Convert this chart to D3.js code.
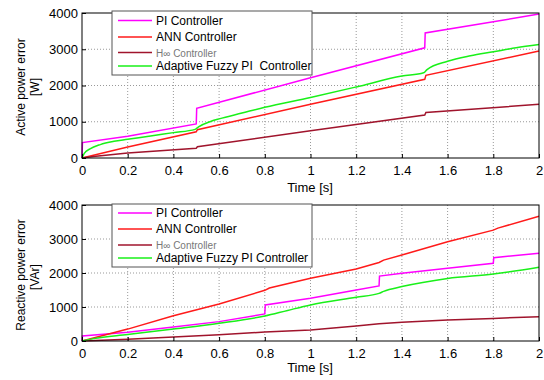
<!DOCTYPE html>
<meta charset="utf-8">
<style>
  body { margin: 0; background: #fff; }
  svg text { font-family: "Liberation Sans", Arial, sans-serif; }
  .grid line { stroke: #999; stroke-dasharray: 1,2; }
</style>
<script src="https://d3js.org/d3.v7.min.js"></script>
<svg id="chart" width="544" height="380"></svg>
<script>

// series names and colours
var names = ["PI Controller", "ANN Controller", "H\u221E Controller", "Adaptive Fuzzy PI  Controller"];
var colors = ["#ff00ff", "#ff1a1a", "#a0142c", "#19f019"];
var xTicks = [0, 0.2, 0.4, 0.6, 0.8, 1, 1.2, 1.4, 1.6, 1.8, 2];
var yTicks = [0, 1000, 2000, 3000, 4000];

// active power error [W]  (t, value)
var pPI = [[0,0],[0.002,425],[0.2,600],[0.5,940],[0.502,1370],[1.0,2215],[1.5,3040],[1.502,3450],[2.0,3970]];
var pANN = [[0,0],[0.2,305],[0.5,725],[0.505,780],[1.0,1480],[1.5,2170],[1.505,2280],[2.0,2950]];
var pHinf = [[0,0],[0.05,40],[0.2,140],[0.5,270],[0.505,310],[1.0,750],[1.5,1185],[1.505,1255],[2.0,1480]];
var pFuzzy = [[0,0],[0.01,130],[0.035,250],[0.08,370],[0.14,460],[0.2,515],[0.3,610],[0.4,700],[0.495,790],[0.51,860],[0.56,1000],[0.6,1080],[0.7,1240],[0.8,1400],[1.0,1670],[1.2,1960],[1.4,2260],[1.495,2350],[1.51,2440],[1.6,2670],[1.7,2820],[1.8,2930],[1.9,3040],[2.0,3130]];

// reactive power error [VAr]
var qPI = [[0,0],[0.002,150],[0.2,255],[0.4,410],[0.6,570],[0.8,795],[0.802,1060],[1.0,1255],[1.2,1500],[1.3,1620],[1.302,1910],[1.4,1990],[1.6,2140],[1.8,2285],[1.802,2450],[2.0,2580]];
var qANN = [[0,0],[0.2,350],[0.4,740],[0.6,1090],[0.8,1490],[0.82,1560],[1.0,1845],[1.2,2120],[1.3,2310],[1.32,2380],[1.4,2530],[1.6,2920],[1.8,3260],[1.82,3320],[2.0,3670]];
var qHinf = [[0,0],[0.2,55],[0.4,115],[0.6,185],[0.8,265],[1.0,325],[1.2,440],[1.3,510],[1.4,550],[1.6,615],[1.8,665],[2.0,715]];
var qFuzzy = [[0,0],[0.05,70],[0.2,190],[0.4,350],[0.6,520],[0.8,735],[0.9,900],[1.0,1060],[1.2,1285],[1.3,1400],[1.32,1460],[1.4,1600],[1.6,1840],[1.8,1970],[2.0,2170]];

var svg = d3.select("#chart");

function drawPlot(cfg) {
  var x = d3.scaleLinear().domain([0, 2]).range([82, 539]);
  var y = d3.scaleLinear().domain([0, 4000]).range([cfg.bottom, cfg.top]);
  var g = svg.append("g");

  // grid
  var grid = g.append("g").attr("class", "grid");
  grid.selectAll(".vx").data(xTicks.slice(1, -1)).enter().append("line")
    .attr("x1", d => x(d)).attr("x2", d => x(d))
    .attr("y1", cfg.top).attr("y2", cfg.bottom);
  grid.selectAll(".hy").data(yTicks.slice(1, -1)).enter().append("line")
    .attr("x1", 82).attr("x2", 539)
    .attr("y1", d => y(d)).attr("y2", d => y(d));

  // series
  var line = d3.line().x(d => x(d[0])).y(d => y(d[1]));
  var smooth = d3.line().x(d => x(d[0])).y(d => y(d[1])).curve(d3.curveMonotoneX);
  cfg.series.forEach(function (s, i) {
    g.append("path").attr("d", (i == 3 ? smooth : line)(s))
      .attr("fill", "none").attr("stroke", colors[i]).attr("stroke-width", 1.5);
  });

  // axes
  var ax = g.append("g").attr("transform", "translate(0," + cfg.bottom + ")")
    .call(d3.axisBottom(x).tickValues(xTicks).tickSize(-4).tickPadding(8).tickFormat(d3.format("")));
  var ay = g.append("g").attr("transform", "translate(82,0)")
    .call(d3.axisLeft(y).tickValues(yTicks).tickSize(-4).tickPadding(4).tickFormat(d3.format("")));
  [ax, ay].forEach(function (a) {
    a.select(".domain").remove();
    a.selectAll("text").attr("font-size", 13).attr("fill", "#000");
  });
  g.append("rect").attr("x", 82).attr("y", cfg.top)
    .attr("width", 539 - 82).attr("height", cfg.bottom - cfg.top)
    .attr("fill", "none").attr("stroke", "#000");

  // labels
  g.append("text").attr("transform", "translate(25," + cfg.lab1 + ") rotate(-90)")
    .attr("text-anchor", "middle").attr("font-size", 12).text(cfg.ylabel);
  g.append("text").attr("transform", "translate(39," + cfg.lab2 + ") rotate(-90)")
    .attr("text-anchor", "middle").attr("font-size", 12).text(cfg.unit);
  g.append("text").attr("x", 310).attr("y", cfg.xlab)
    .attr("text-anchor", "middle").attr("font-size", 13).text("Time [s]");

  // legend
  var lg = g.append("g");
  lg.append("rect").attr("x", 112).attr("y", cfg.leg[0])
    .attr("width", 200).attr("height", cfg.leg[1])
    .attr("fill", "#fff").attr("stroke", "#555");
  names.forEach(function (n, i) {
    var ly = cfg.rows[i];
    lg.append("line").attr("x1", 118).attr("x2", 152).attr("y1", ly).attr("y2", ly)
      .attr("stroke", colors[i]).attr("stroke-width", 1.3);
    lg.append("text").attr("x", 156).attr("y", ly + 4)
      .attr("font-size", i == 2 ? 10 : 12).attr("fill", i == 2 ? "#777" : "#000")
      .style("white-space", cfg.pre && i == 3 ? "pre" : null)
      .text(cfg.pre || i != 3 ? n : "Adaptive Fuzzy PI Controller");
  });
}

drawPlot({
  top: 13, bottom: 158, series: [pPI, pANN, pHinf, pFuzzy],
  ylabel: "Active power error", unit: "[W]", lab1: 87, lab2: 87, xlab: 192,
  leg: [11, 64], rows: [20.5, 37, 52.5, 66], pre: true
});
drawPlot({
  top: 205, bottom: 341, series: [qPI, qANN, qHinf, qFuzzy],
  ylabel: "Reactive power error", unit: "[VAr]", lab1: 275, lab2: 277, xlab: 372,
  leg: [204, 63], rows: [213, 229, 245, 258], pre: false
});

</script>
